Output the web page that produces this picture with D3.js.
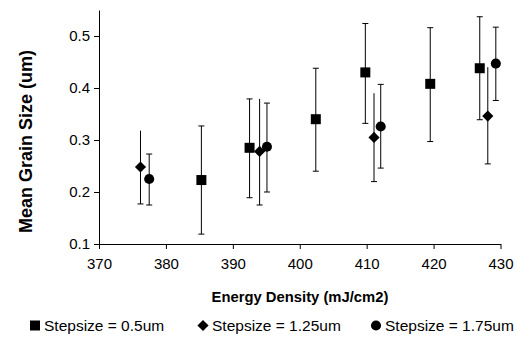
<!DOCTYPE html>
<html><head><meta charset="utf-8">
<script src="https://cdn.jsdelivr.net/npm/d3@7"></script>
<style>body{margin:0;background:#fff}svg{display:block;font-family:"Liberation Sans",Arial,sans-serif}</style>
</head><body>
<svg id="c" width="518" height="337"></svg>
<script>
const seriesNames = ["Stepsize = 0.5um", "Stepsize = 1.25um", "Stepsize = 1.75um"];
const squareX  = [385.3, 392.5, 402.4, 409.8, 419.5, 426.9];
const squareY  = [0.223, 0.285, 0.340, 0.430, 0.408, 0.438];
const squareHi = [0.327, 0.379, 0.438, 0.524, 0.516, 0.537];
const squareLo = [0.119, 0.189, 0.240, 0.332, 0.297, 0.339];
const diamondX  = [376.2, 394.0, 411.1, 428.1];
const diamondY  = [0.248, 0.278, 0.305, 0.346];
const diamondHi = [0.318, 0.379, 0.390, 0.440];
const diamondLo = [0.177, 0.175, 0.220, 0.254];
const circleX  = [377.5, 395.1, 412.1, 429.3];
const circleY  = [0.225, 0.287, 0.326, 0.447];
const circleHi = [0.273, 0.371, 0.407, 0.517];
const circleLo = [0.175, 0.200, 0.246, 0.376];
const xTicks = [370, 380, 390, 400, 410, 420, 430];
const yTicks = [0.1, 0.2, 0.3, 0.4, 0.5];

const svg = d3.select("#c");
const x = d3.scaleLinear().domain([370, 430]).range([99, 500.5]);
const y = d3.scaleLinear().domain([0.1, 0.55]).range([244, 10]);

const xAxis = svg.append("g").attr("transform", "translate(0,244)")
  .call(d3.axisBottom(x).tickValues(xTicks).tickSize(5).tickSizeOuter(0).tickPadding(9).tickFormat(d3.format("d")));
const yAxis = svg.append("g").attr("transform", "translate(99,0)")
  .call(d3.axisLeft(y).tickValues(yTicks).tickSize(5).tickSizeOuter(0).tickPadding(4).tickFormat(d3.format(".1f")));
[xAxis, yAxis].forEach(a => {
  a.selectAll("text").attr("font-size", 15).attr("fill", "#000").attr("font-family", "Liberation Sans, Arial, sans-serif");
  a.selectAll("line,path").attr("stroke", "#000");
});

const series = [
  {X: squareX, Y: squareY, H: squareHi, L: squareLo, shape: d3.symbolSquare, size: 100, rot: 0, topCap: true},
  {X: diamondX, Y: diamondY, H: diamondHi, L: diamondLo, shape: d3.symbolSquare, size: 62, rot: 45, topCap: false},
  {X: circleX, Y: circleY, H: circleHi, L: circleLo, shape: d3.symbolCircle, size: 80, rot: 0, topCap: true}
];

series.forEach(s => {
  const g = svg.append("g");
  const d = s.X.map((v, i) => ({x: v, y: s.Y[i], hi: s.H[i], lo: s.L[i]}));
  g.selectAll("line.v").data(d).join("line")
    .attr("x1", p => x(p.x)).attr("x2", p => x(p.x))
    .attr("y1", p => y(p.hi)).attr("y2", p => y(p.lo))
    .attr("stroke", "#000").attr("stroke-width", 1);
  if (s.topCap) g.selectAll("line.t").data(d).join("line")
    .attr("x1", p => x(p.x) - 3).attr("x2", p => x(p.x) + 3)
    .attr("y1", p => y(p.hi)).attr("y2", p => y(p.hi))
    .attr("stroke", "#000").attr("stroke-width", 1);
  g.selectAll("line.b").data(d).join("line")
    .attr("x1", p => x(p.x) - 3).attr("x2", p => x(p.x) + 3)
    .attr("y1", p => y(p.lo)).attr("y2", p => y(p.lo))
    .attr("stroke", "#000").attr("stroke-width", 1);
  g.selectAll("path").data(d).join("path")
    .attr("d", d3.symbol().type(s.shape).size(s.size))
    .attr("transform", p => `translate(${x(p.x)},${y(p.y)}) rotate(${s.rot})`)
    .attr("fill", "#000");
});

svg.append("text").attr("x", 300).attr("y", 302).attr("text-anchor", "middle")
  .attr("font-size", 14.8).attr("font-weight", "bold").text("Energy Density (mJ/cm2)");
svg.append("text").attr("transform", "translate(32,141.5) rotate(-90)").attr("text-anchor", "middle")
  .attr("font-size", 18).attr("font-weight", "bold").text("Mean Grain Size (um)");

const legendX = [35, 203, 376];
const legendShapes = [d3.symbolSquare, d3.symbolSquare, d3.symbolCircle];
const legendSizes = [100, 62, 80];
const legendRot = [0, 45, 0];
seriesNames.forEach((n, i) => {
  svg.append("path").attr("d", d3.symbol().type(legendShapes[i]).size(legendSizes[i]))
    .attr("transform", `translate(${legendX[i]},325.5) rotate(${legendRot[i]})`).attr("fill", "#000");
  svg.append("text").attr("x", legendX[i] + 9).attr("y", 331).attr("font-size", 15.5).text(n);
});
</script>
</body></html>
